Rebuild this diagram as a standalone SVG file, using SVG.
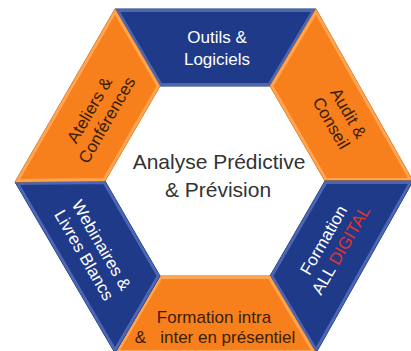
<svg xmlns="http://www.w3.org/2000/svg" width="411" height="351" viewBox="0 0 411 351">
  <style>
    .blue { fill: #1f3a88; stroke: #15296a; stroke-width: 1; }
    .orange { fill: #f7801c; stroke: #c45f0a; stroke-width: 1; }
    .bevb { fill: none; stroke: #4a66b4; stroke-width: 6; }
    .bevo { fill: none; stroke: #ffa552; stroke-width: 6; }
    text { font-family: "Liberation Sans", Arial, sans-serif; text-anchor: middle; }
    .lw { fill: #ffffff; font-size: 17px; }
    .lo { fill: #3a1d05; font-size: 17px; }
    .ctr { fill: #333333; font-size: 21px; }
  </style>
  <defs>
    <polygon id="pT" points="115,9 316,9 270,86 160,86"/>
    <polygon id="pUR" points="316,9 413,181 325,181 270,86"/>
    <polygon id="pLR" points="413,181 316,353 270,276 325,181"/>
    <polygon id="pB" points="316,353 115,353 160,276 270,276"/>
    <polygon id="pLL" points="115,353 15,182 105,181 160,276"/>
    <polygon id="pUL" points="15,182 115,9 160,86 105,181"/>
    <clipPath id="cT"><use href="#pT"/></clipPath>
    <clipPath id="cUR"><use href="#pUR"/></clipPath>
    <clipPath id="cLR"><use href="#pLR"/></clipPath>
    <clipPath id="cB"><use href="#pB"/></clipPath>
    <clipPath id="cLL"><use href="#pLL"/></clipPath>
    <clipPath id="cUL"><use href="#pUL"/></clipPath>
  </defs>
  <rect width="411" height="351" fill="#ffffff"/>

  <g id="outils">
    <use href="#pT" class="blue"/>
    <use href="#pT" class="bevb" clip-path="url(#cT)"/>
    <text class="lw"><tspan x="217" y="43">Outils &amp;</tspan><tspan x="217" y="65">Logiciels</tspan></text>
  </g>

  <g id="audit">
    <use href="#pUR" class="orange"/>
    <use href="#pUR" class="bevo" clip-path="url(#cUR)"/>
    <text class="lo" transform="translate(340,118) rotate(60)"><tspan x="0" y="-4">Audit &amp;</tspan><tspan x="0" y="16">Conseil</tspan></text>
  </g>

  <g id="formation-digital">
    <use href="#pLR" class="blue"/>
    <use href="#pLR" class="bevb" clip-path="url(#cLR)"/>
    <text class="lw" transform="translate(332,245) rotate(-60)"><tspan x="0" y="-4">Formation</tspan><tspan x="0" y="16">ALL <tspan fill="#e0352d">DIGITAL</tspan></tspan></text>
  </g>

  <g id="formation-presentiel">
    <use href="#pB" class="orange"/>
    <use href="#pB" class="bevo" clip-path="url(#cB)"/>
    <text class="lo" xml:space="preserve"><tspan x="214" y="323">Formation intra</tspan><tspan x="215" y="343">&amp;   inter en présentiel</tspan></text>
  </g>

  <g id="webinaires">
    <use href="#pLL" class="blue"/>
    <use href="#pLL" class="bevb" clip-path="url(#cLL)"/>
    <text class="lw" transform="translate(93,250) rotate(60)"><tspan x="0" y="-4">Webinaires &amp;</tspan><tspan x="0" y="16">Livres Blancs</tspan></text>
  </g>

  <g id="ateliers">
    <use href="#pUL" class="orange"/>
    <use href="#pUL" class="bevo" clip-path="url(#cUL)"/>
    <text class="lo" transform="translate(98,115) rotate(-60)"><tspan x="0" y="-4">Ateliers &amp;</tspan><tspan x="0" y="16">Conférences</tspan></text>
  </g>

  <g id="centre">
    <text class="ctr"><tspan x="219" y="169">Analyse Prédictive</tspan><tspan x="218" y="197">&amp; Prévision</tspan></text>
  </g>

  <g id="connectors"></g>
</svg>
